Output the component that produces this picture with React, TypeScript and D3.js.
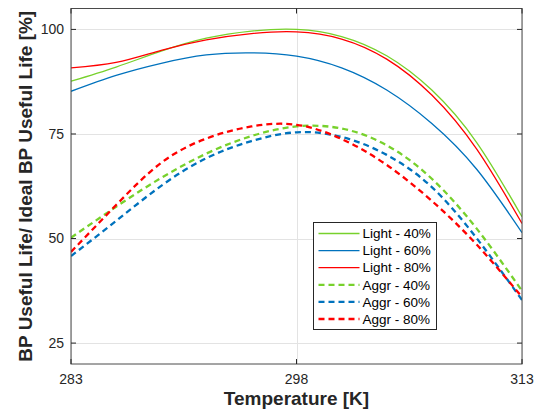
import * as React from "react"
import * as d3 from "d3"

// temperature samples [K]
const temps = [283, 286, 289, 292, 295, 298, 301, 304, 307, 310, 313]

// useful life ratio [%]
const light40 = [87.6, 91.0, 94.8, 97.9, 99.6, 100.0, 98.3, 93.7, 85.5, 72.9, 55.2]
const light60 = [85.2, 89.0, 91.9, 93.9, 94.4, 93.6, 90.8, 85.5, 77.5, 66.5, 51.4]
const light80 = [90.8, 92.1, 95.0, 97.5, 99.0, 99.4, 97.7, 92.9, 84.3, 71.3, 53.6]
const aggr40 = [50.2, 57.6, 64.5, 70.3, 74.5, 76.8, 76.3, 72.3, 64.3, 52.3, 37.5]
const aggr60 = [45.8, 54.2, 62.6, 69.2, 73.3, 75.4, 74.3, 70.0, 62.3, 50.0, 35.3]
const aggr80 = [46.8, 58.0, 68.1, 73.9, 76.8, 77.2, 73.8, 67.6, 59.0, 48.5, 36.0]

const xTicks = [283, 298, 313]
const yTicks = [25, 50, 75, 100]

const series = [
    { name: "Light - 40%", values: light40, color: "#77d12c", dashed: false },
    { name: "Light - 60%", values: light60, color: "#0072bd", dashed: false },
    { name: "Light - 80%", values: light80, color: "#ff0000", dashed: false },
    { name: "Aggr - 40%", values: aggr40, color: "#77d12c", dashed: true },
    { name: "Aggr - 60%", values: aggr60, color: "#0072bd", dashed: true },
    { name: "Aggr - 80%", values: aggr80, color: "#ff0000", dashed: true },
]

export default function App() {
    const width = 543
    const height = 413
    const left = 71, right = 522, top = 8.5, bottom = 364
    const font = "'Liberation Sans', Arial, sans-serif"

    const x = d3.scaleLinear().domain([283, 313]).range([left, right])
    const y = d3.scaleLinear().domain([20, 105]).range([bottom, top])

    const line = d3.line<number>()
        .x((d, i) => x(temps[i]))
        .y((d) => y(d))
        .curve(d3.curveNatural)

    const legX = 313.5, legY = 222.5, legW = 123, legH = 107
    const rowH = 17.1

    return (
        <svg width={width} height={height} style={{ position: "absolute", left: 0, top: 0 }}>
            <rect x={0} y={0} width={width} height={height} fill="#fff" />
            <defs>
                <clipPath id="plot">
                    <rect x={left} y={top} width={right - left} height={bottom - top} />
                </clipPath>
            </defs>
            {/* grid */}
            {yTicks.map((t) => (
                <line key={"gy" + t} x1={left} x2={right} y1={Math.round(y(t)) + 0.5} y2={Math.round(y(t)) + 0.5} stroke="#e3e3e3" />
            ))}
            {xTicks.map((t) => (
                <line key={"gx" + t} x1={Math.round(x(t)) + 0.5} x2={Math.round(x(t)) + 0.5} y1={top} y2={bottom} stroke="#e3e3e3" />
            ))}
            {/* curves */}
            <g clipPath="url(#plot)">
                {series.map((s) => (
                    <path key={s.name} d={line(s.values) || ""} fill="none" stroke={s.color}
                        strokeWidth={s.dashed ? 2.3 : 1.3}
                        strokeDasharray={s.dashed ? "6,4" : undefined} />
                ))}
            </g>
            {/* box and ticks */}
            <rect x={left} y={top} width={right - left} height={bottom - top} fill="none" stroke="#4a4a4a" strokeWidth={1} />
            {yTicks.map((t) => (
                <g key={"ty" + t}>
                    <line x1={left} x2={left + 5} y1={y(t)} y2={y(t)} stroke="#262626" />
                    <line x1={right - 5} x2={right} y1={y(t)} y2={y(t)} stroke="#262626" />
                    <text x={left - 7} y={y(t)} dy="0.35em" textAnchor="end" fontFamily={font} fontSize={14} fill="#262626">{t}</text>
                </g>
            ))}
            {xTicks.map((t) => (
                <g key={"tx" + t}>
                    <line x1={x(t)} x2={x(t)} y1={bottom} y2={bottom - 5} stroke="#262626" />
                    <line x1={x(t)} x2={x(t)} y1={top} y2={top + 5} stroke="#262626" />
                    <text x={x(t)} y={384} textAnchor="middle" fontFamily={font} fontSize={14} fill="#262626">{t}</text>
                </g>
            ))}
            {/* axis labels */}
            <text x={(left + right) / 2} y={405} textAnchor="middle" fontFamily={font} fontSize={19} fontWeight="bold" fill="#262626">Temperature [K]</text>
            <text transform={`translate(32, ${(top + bottom) / 2}) rotate(-90)`} textAnchor="middle" fontFamily={font} fontSize={19} fontWeight="bold" fill="#262626">BP Useful Life/ Ideal BP Useful Life [%]</text>
            {/* legend */}
            <g>
                <rect x={legX} y={legY} width={legW} height={legH} fill="#fff" stroke="#262626" strokeWidth={1} />
                {series.map((s, i) => {
                    const cy = legY + 11 + i * rowH
                    return (
                        <g key={"lg" + s.name}>
                            <line x1={legX + 5} x2={legX + 46} y1={cy} y2={cy} stroke={s.color}
                                strokeWidth={s.dashed ? 2.3 : 1.3}
                                strokeDasharray={s.dashed ? "6,4" : undefined} />
                            <text x={legX + 49} y={cy} dy="0.35em" fontFamily={font} fontSize={13.5} fill="#000">{s.name}</text>
                        </g>
                    )
                })}
            </g>
        </svg>
    )
}
